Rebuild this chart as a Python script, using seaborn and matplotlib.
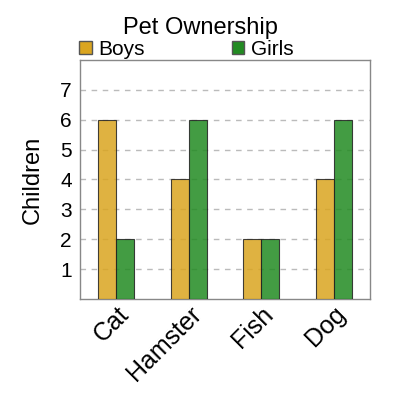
import matplotlib
matplotlib.use('Agg')
import matplotlib.pyplot as plt
import seaborn as sns
import pandas as pd
from matplotlib.patches import Patch

pets = ['Cat', 'Hamster', 'Fish', 'Dog']
boys = [6, 4, 2, 4]
girls = [2, 6, 2, 6]
groups = ['Boys', 'Girls']
colors = {'Boys': '#daa520', 'Girls': '#228b22'}

df = pd.DataFrame({
    'pet': pets * 2,
    'count': boys + girls,
    'group': ['Boys'] * len(pets) + ['Girls'] * len(pets),
})

sns.set_theme(style="white")
plt.rcParams['font.family'] = ['Liberation Sans', 'DejaVu Sans']
plt.rcParams['text.color'] = 'black'
plt.rcParams['xtick.color'] = 'black'
plt.rcParams['ytick.color'] = 'black'
plt.rcParams['axes.labelcolor'] = 'black'

fig = plt.figure(figsize=(4, 4), dpi=100)
ax = fig.add_axes([0.2, 0.2525, 0.725, 0.5975])

sns.barplot(data=df, x='pet', y='count', hue='group', order=pets, hue_order=groups,
            palette=colors, saturation=1, width=0.5, alpha=0.85, edgecolor='#222222',
            linewidth=0.8, legend=False, ax=ax, zorder=3)

ax.set_xlim(-0.5, 3.5)
ax.set_ylim(0, 8)
ax.set_yticks(range(1, 8))
ax.yaxis.grid(True, linestyle=(0, (4, 4)), color='#bbbbbb', linewidth=1)
ax.set_axisbelow(True)
for s in ax.spines.values():
    s.set_color('#888888')
    s.set_linewidth(1)

ax.tick_params(axis='y', labelsize=15, length=0, pad=6)
ax.tick_params(axis='x', labelsize=18, length=0, pad=2)
plt.setp(ax.get_xticklabels(), rotation=45, ha='right', rotation_mode='anchor')
ax.set_xlabel('')
ax.set_ylabel('Children', fontsize=17, labelpad=12)

fig.suptitle('Pet Ownership', fontsize=17, x=0.5, y=0.93, va='center')
handles = [Patch(facecolor=colors[g], edgecolor='#555555', label=g) for g in groups]
fig.legend(handles=handles, loc='center left', bbox_to_anchor=(0.198, 0.876), ncol=2,
           frameon=False, fontsize=15, handlelength=0.6, handleheight=0.6,
           handletextpad=0.3, columnspacing=4.2, borderaxespad=0, borderpad=0)

fig.savefig('out.png', dpi=100)
